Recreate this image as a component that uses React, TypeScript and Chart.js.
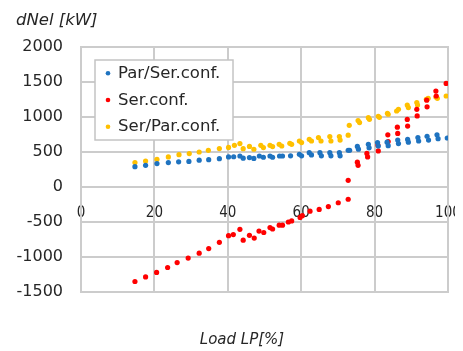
import { useEffect, useRef } from 'react';
import { Chart, registerables } from 'chart.js';

Chart.register(...registerables);

// Par/Ser.conf. (blue)
const parSerX = [14.7, 17.6, 20.7, 23.8, 26.6, 29.4, 32.2, 34.8, 37.7, 40.2, 41.6, 43.3, 44.2, 45.9, 47.1, 48.6, 49.7, 51.5, 52.2, 54.1, 54.9, 57.1, 59.5, 60.1, 62.2, 62.8, 65.1, 65.5, 67.8, 68.1, 70.4, 70.6, 72.8, 73.2, 75.3, 75.6, 78.3, 78.5, 80.8, 81.0, 83.4, 83.7, 86.3, 86.5, 89.0, 89.2, 91.8, 92.0, 94.3, 94.7, 97.0, 97.3, 99.8];
const parSerY = [290, 310, 334, 349, 360, 365, 383, 390, 405, 430, 432, 443, 412, 420, 408, 443, 425, 443, 425, 443, 443, 445, 467, 445, 491, 458, 491, 445, 491, 445, 491, 445, 525, 525, 580, 540, 610, 560, 634, 586, 640, 590, 670, 620, 680, 640, 706, 657, 725, 671, 745, 690, 700];

// Ser.conf. (red)
const serX = [14.7, 17.6, 20.6, 23.6, 26.2, 29.2, 32.2, 34.8, 37.7, 40.2, 41.5, 43.3, 44.2, 45.9, 47.2, 48.5, 49.8, 51.5, 52.2, 54.0, 54.9, 56.5, 57.4, 59.7, 60.3, 62.4, 64.9, 67.4, 70.1, 72.8, 72.8, 75.3, 75.5, 77.9, 78.1, 80.9, 81.0, 83.6, 83.7, 86.2, 86.3, 88.9, 89.0, 91.5, 91.6, 94.2, 94.3, 96.7, 96.8, 99.5];
const serY = [-1350, -1285, -1220, -1150, -1080, -1015, -945, -880, -790, -695, -680, -605, -760, -690, -730, -630, -650, -580, -600, -545, -545, -500, -485, -435, -410, -345, -320, -280, -225, -175, 95, 355, 310, 480, 430, 600, 515, 745, 650, 855, 765, 965, 870, 1110, 1015, 1240, 1145, 1370, 1300, 1480];

// Ser/Par.conf. (yellow)
const serParX = [14.7, 17.6, 20.7, 23.8, 26.7, 29.5, 32.2, 34.7, 37.7, 40.2, 41.8, 43.3, 44.2, 45.9, 47.1, 49.0, 49.7, 51.5, 52.2, 54.0, 54.7, 56.9, 57.4, 59.5, 60.1, 62.2, 62.8, 64.7, 65.4, 67.8, 68.1, 70.4, 70.6, 72.8, 73.1, 75.5, 75.9, 78.3, 78.6, 81.0, 81.3, 83.5, 83.7, 86.0, 86.5, 88.9, 89.2, 91.5, 91.7, 94.1, 94.6, 96.7, 97.1, 99.5];
const serParY = [349, 371, 396, 429, 462, 477, 500, 524, 549, 566, 596, 620, 548, 580, 539, 596, 563, 596, 577, 610, 586, 624, 610, 657, 634, 681, 657, 706, 657, 720, 657, 720, 671, 740, 881, 950, 920, 991, 967, 1010, 995, 1053, 1039, 1086, 1110, 1171, 1134, 1206, 1171, 1253, 1267, 1286, 1267, 1300];

const xTickValues = [0, 20, 40, 60, 80, 100];
const yTickValues = [-1500, -1000, -500, 0, 500, 1000, 1500, 2000];

const seriesNames = ['Par/Ser.conf.', 'Ser.conf.', 'Ser/Par.conf.'];
const seriesColors = ['#1f73c0', '#ff0000', '#ffc000'];
const yTitle = 'dNel [kW]';
const xTitle = 'Load LP[%]';

const GRID = '#cccccc';
const TEXT = '#262626';

export default function App() {
  const ref = useRef<HTMLCanvasElement>(null);

  useEffect(() => {
    const canvas = ref.current;
    if (!canvas) return;
    const pts = (xs: number[], ys: number[]) => xs.map((x, i) => ({ x, y: ys[i] }));
    const xsAll = [parSerX, serX, serParX];
    const ysAll = [parSerY, serY, serParY];

    const chart = new Chart(canvas, {
      type: 'scatter',
      data: {
        datasets: seriesNames.map((name, i) => ({
          label: name,
          data: pts(xsAll[i], ysAll[i]),
          backgroundColor: seriesColors[i],
          borderColor: seriesColors[i],
          borderWidth: 0,
          pointRadius: 2.6,
        })),
      },
      options: {
        responsive: false,
        animation: false,
        layout: { padding: { left: 0, right: 7, top: 39, bottom: 59 } },
        plugins: { legend: { display: false }, tooltip: { enabled: false }, title: { display: false } },
        scales: {
          x: {
            type: 'linear',
            position: { y: 0 } as any,
            min: 0,
            max: 100,
            ticks: {
              stepSize: 20,
              padding: 17,
              autoSkip: false,
              maxRotation: 0,
              color: TEXT,
              font: { family: '"DejaVu Sans Condensed", "DejaVu Sans"', size: 15 },
              callback: (v: any) => String(v),
            },
            grid: { display: false, drawTicks: false },
            border: { display: false },
            afterFit: (s: any) => {
              s.paddingLeft = 0;
              s.paddingRight = 0;
            },
          },
          y: {
            type: 'linear',
            min: -1500,
            max: 2000,
            ticks: {
              stepSize: 500,
              padding: 18,
              autoSkip: false,
              color: TEXT,
              font: { family: '"DejaVu Sans"', size: 16 },
              callback: (v: any) => String(v),
            },
            grid: { display: false, drawTicks: false },
            border: { display: false },
            afterFit: (s: any) => {
              s.width = 73;
              s.paddingTop = 0;
              s.paddingBottom = 0;
            },
          },
        },
      },
      plugins: [
        {
          id: 'gridLines',
          beforeDatasetsDraw(c: any) {
            const ctx = c.ctx as CanvasRenderingContext2D;
            const { left, right, top, bottom } = c.chartArea;
            const xs = c.scales.x;
            const ys = c.scales.y;
            ctx.save();
            ctx.strokeStyle = GRID;
            ctx.lineWidth = 2;
            xTickValues.forEach((v) => {
              const px = Math.round(xs.getPixelForValue(v));
              ctx.beginPath();
              ctx.moveTo(px, top - 1);
              ctx.lineTo(px, bottom + 1);
              ctx.stroke();
            });
            yTickValues.forEach((v) => {
              const py = Math.round(ys.getPixelForValue(v));
              ctx.beginPath();
              ctx.moveTo(left - 1, py);
              ctx.lineTo(right + 1, py);
              ctx.stroke();
            });
            ctx.restore();
          },
        },
        {
          id: 'overlay',
          afterDraw(c: any) {
            const ctx = c.ctx as CanvasRenderingContext2D;
            ctx.save();
            ctx.fillStyle = TEXT;
            ctx.textBaseline = 'middle';
            ctx.textAlign = 'left';
            ctx.font = 'italic 16.5px "DejaVu Sans"';
            ctx.fillText(yTitle, 8, 13);
            ctx.textAlign = 'center';
            ctx.font = 'italic 15px "DejaVu Sans"';
            ctx.fillText(xTitle, 234, 332);
            const lx = 87, ly = 52, lw = 138, lh = 80;
            ctx.fillStyle = '#ffffff';
            ctx.fillRect(lx, ly, lw, lh);
            ctx.strokeStyle = '#c4c4c4';
            ctx.lineWidth = 1.5;
            ctx.strokeRect(lx, ly, lw, lh);
            ctx.textAlign = 'left';
            ctx.font = '16.5px "DejaVu Sans"';
            seriesNames.forEach((name, i) => {
              const cy = ly + 13.3 + i * 26.7;
              ctx.fillStyle = seriesColors[i];
              ctx.beginPath();
              ctx.arc(lx + 13, cy, 2.3, 0, Math.PI * 2);
              ctx.fill();
              ctx.fillStyle = TEXT;
              ctx.fillText(name, lx + 23, cy + 0.5);
            });
            ctx.restore();
          },
        },
      ],
    });
    return () => chart.destroy();
  }, []);

  return <canvas ref={ref} width={447} height={343} style={{ display: 'block' }} />;
}
